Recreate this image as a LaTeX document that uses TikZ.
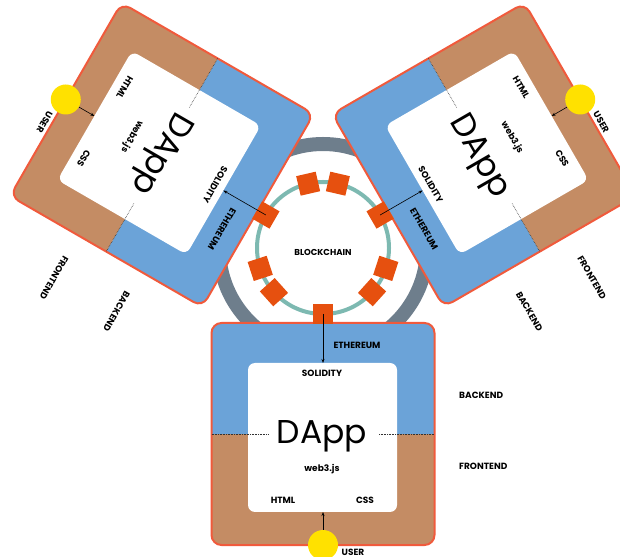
\documentclass[tikz,border=0pt]{standalone}
\usepackage{fontspec}
\setmainfont{Poppins}
\usetikzlibrary{arrows.meta,calc}
\definecolor{bluec}{HTML}{6BA3D8}
\definecolor{brownc}{HTML}{C48C64}
\definecolor{redc}{HTML}{F05A3C}
\definecolor{yellowc}{HTML}{FFE100}
\definecolor{orangec}{HTML}{E6500F}
\definecolor{tealc}{HTML}{7DB9B1}
\definecolor{greyc}{HTML}{6E7E8C}
\tikzset{
  lbl/.style={font=\bfseries\fontsize{9}{9}\selectfont, inner sep=0pt, text depth=0pt},
  bigl/.style={font=\fontsize{33}{33}\selectfont, inner sep=0pt, text depth=0pt},
  sqr/.style={fill=orangec, minimum size=20pt, inner sep=0pt},
  usercirc/.style={circle, fill=yellowc, minimum size=30pt, inner sep=0pt},
  arr/.style={-{Stealth[length=4pt,width=3pt]}, line width=0.6pt, black},
  divider/.style={densely dotted, line width=0.6pt, black!80},
}
% #1 name, #2 cx, #3 cy, #4 angle, #5 yscale
\newcommand\dappunit[5]{%
\begin{scope}[shift={(#2,#3)}, rotate=#4, yscale=#5]
  \begin{scope}
    \clip[rounded corners=10pt] (-111.5,-111) rectangle (111.5,111);
    \fill[bluec] (-113,0) rectangle (113,113);
    \fill[brownc] (-113,-113) rectangle (113,0);
  \end{scope}
  \draw[redc, line width=2pt, rounded corners=10pt] (-111.5,-111) rectangle (111.5,111);
  \fill[white, rounded corners=7pt] (-75,-78) rectangle (74,71);
  \draw[divider] (-111.5,0) -- (-55,0) (56,0) -- (111.5,0);
  \coordinate (#1-top) at (0,71);
  \coordinate (#1-bot) at (0,-78);
  \node[usercirc] (#1-user) at (0,-111) {};
  \draw[arr] (#1-user) -- (#1-bot);
  \node[lbl, rotate=#4] (#1-eth) at (34,89) {ETHEREUM};
  \node[lbl, rotate=#4] (#1-sol) at (-1,61) {SOLIDITY};
  \node[bigl, rotate=#4] (#1-dapp) at (-1,1.5) {DApp};
  \node[lbl, rotate=#4] (#1-web) at (-1,-34) {web3.js};
  \node[lbl, rotate=#4] (#1-html) at (-40,-66) {HTML};
  \node[lbl, rotate=#4] (#1-css) at (42,-66) {CSS};
  \node[lbl, rotate=#4] (#1-usr) at (30,-118) {USER};
  \node[lbl, rotate=#4, anchor=west] (#1-back) at (136,39) {BACKEND};
  \node[lbl, rotate=#4, anchor=west] (#1-front) at (136,-32) {FRONTEND};
\end{scope}}
\begin{document}
\begin{tikzpicture}[x=1pt,y=1pt]
\useasboundingbox (0,0) rectangle (620,556);
\clip (0,0) rectangle (620,556);
\coordinate (C) at (323,308);
% outer grey ring
\draw[greyc, line width=14pt] (C) circle (104);
% three DApps
\dappunit{B}{323}{122}{0}{1}
\dappunit{L}{161.92}{401}{-120}{1}
\dappunit{R}{484.08}{401}{-60}{-1}
% blockchain ring
\draw[tealc, line width=4pt] (C) circle (66);
\foreach \a in {77,103,198,222,318,342} {
  \node[sqr, rotate=\a] (sq\a) at ($(C)+(\a:66)$) {};
}
\node[sqr, rotate=30] (sq30) at ($(C)+(30:66)$) {};
\node[sqr, rotate=150] (sq150) at ($(C)+(150:66)$) {};
\node[sqr, rotate=270] (sq270) at ($(C)+(270:66)$) {};
\draw[arr] (sq270.center) -- (B-top);
\draw[arr] (sq150.center) -- (L-top);
\draw[arr] (sq30.center) -- (R-top);
\node[lbl, font=\bfseries\fontsize{8.6}{8.6}\selectfont] (chain) at (323,304) {BLOCKCHAIN};
\end{tikzpicture}
\end{document}
